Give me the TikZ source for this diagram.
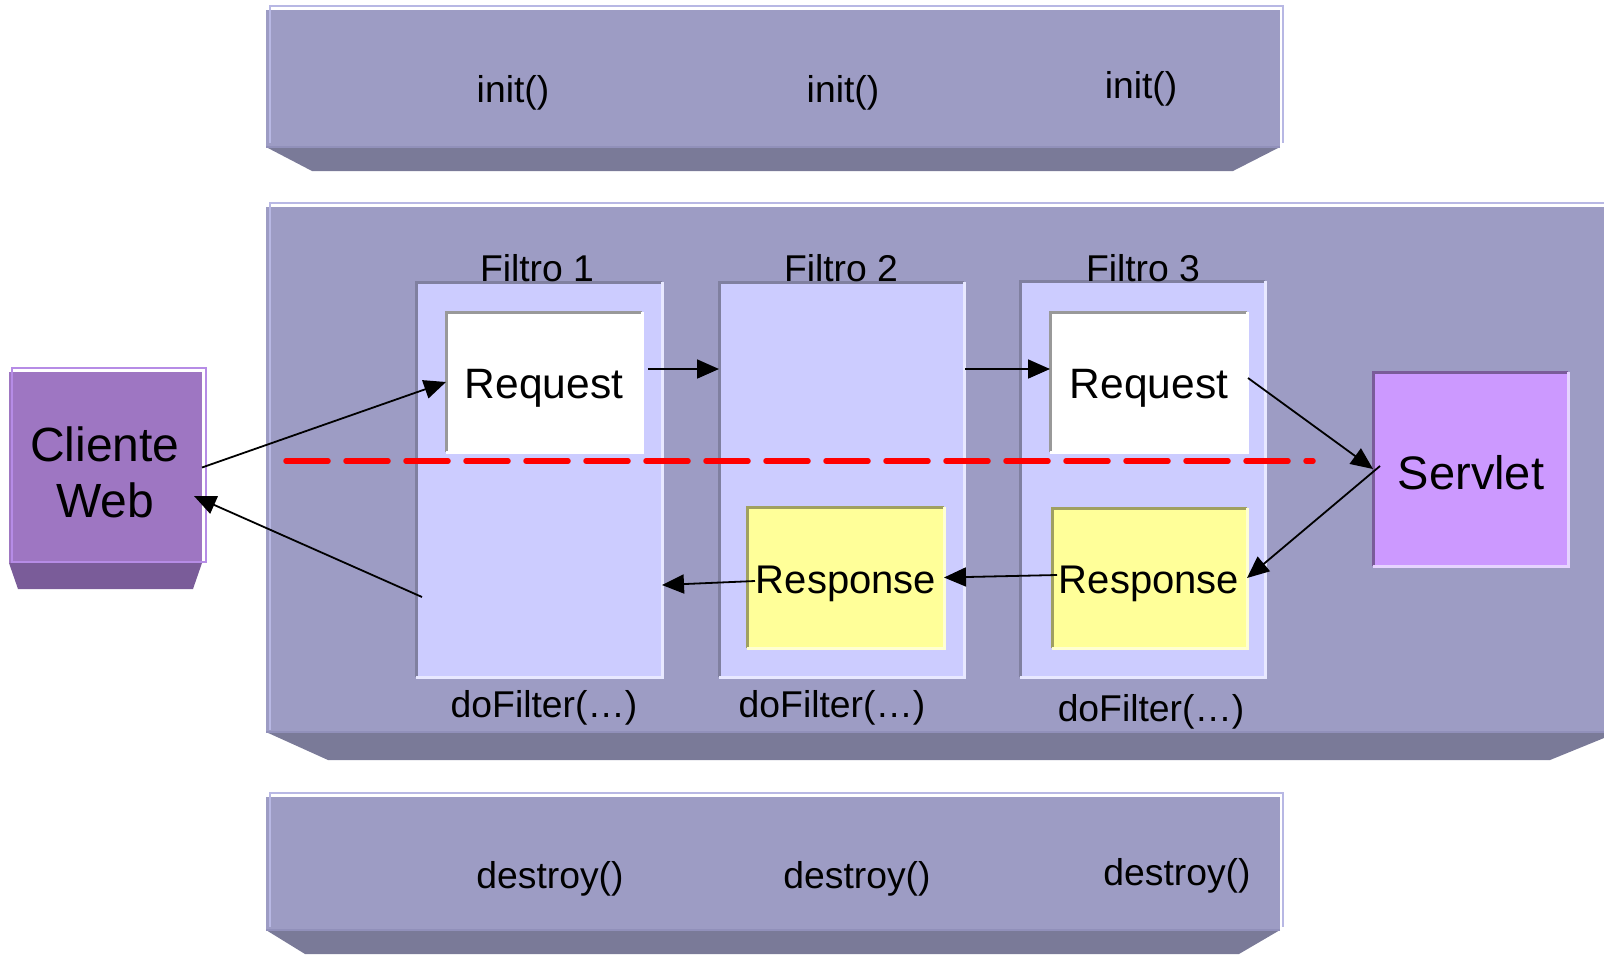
\documentclass[tikz,border=0pt]{standalone}
\usepackage{fontspec}
\setmainfont{Liberation Sans}
\usetikzlibrary{arrows.meta}
\definecolor{pface}{RGB}{157,156,196}
\definecolor{pshadow}{RGB}{122,122,152}
\definecolor{pline}{RGB}{184,184,228}
\definecolor{pbottom}{RGB}{145,144,186}
\definecolor{ffill}{RGB}{204,204,255}
\definecolor{fdark}{RGB}{128,128,160}
\definecolor{flight}{RGB}{232,232,255}
\definecolor{rdark}{RGB}{153,153,153}
\definecolor{yfill}{RGB}{255,255,153}
\definecolor{ydark}{RGB}{160,160,96}
\definecolor{ylight}{RGB}{255,255,210}
\definecolor{cfill}{RGB}{158,118,194}
\definecolor{cshadow}{RGB}{122,92,153}
\definecolor{cline}{RGB}{182,140,230}
\definecolor{sfill}{RGB}{204,153,255}
\definecolor{sdark}{RGB}{122,92,153}
\definecolor{slight}{RGB}{230,212,255}
\newcommand\bevel[3]{%
  \draw[#2,line width=3pt] (#1.south west) -- (#1.north west) -- (#1.north east);
  \draw[#3,line width=3pt] (#1.north east) -- (#1.south east) -- (#1.south west);}
\begin{document}
\begin{tikzpicture}[x=1pt,y=-1pt,
  boxn/.style={inner sep=0pt,outer sep=0pt,anchor=north west},
  lbl/.style={inner sep=0pt,font=\fontsize{37.3}{42}\selectfont},
  req/.style={inner sep=0pt,font=\fontsize{42.5}{48}\selectfont},
  res/.style={inner sep=0pt,font=\fontsize{40}{46}\selectfont},
  arr/.style={-{Triangle[length=22pt,width=19pt]},line width=1.8pt,black}]
\useasboundingbox (0,0) rectangle (1604,954);

% ---------- top panel ----------
\node[boxn,fill=pface,minimum width=1014pt,minimum height=137pt] (ptop) at (266,10) {};
\draw[pline,line width=2pt] (270,143) -- (270,6) -- (1283,6) -- (1283,143);
\draw[white,line width=1pt] (272,8.5) -- (1281,8.5);
\fill[pshadow] (ptop.south west) -- (ptop.south east) -- (1233,171) -- (312,171) -- cycle;
\draw[pbottom,line width=1.5pt] (ptop.south west) -- (ptop.south east);

% ---------- middle panel ----------
\node[boxn,fill=pface,minimum width=1340pt,minimum height=525pt] (pmid) at (266,207) {};
\draw[pline,line width=2pt] (270,730) -- (270,203) -- (1610,203);
\draw[white,line width=1pt] (272,205.5) -- (1610,205.5);
\fill[pshadow] (pmid.south west) -- (1604,732) -- (1604,738) -- (1550,760) -- (328,760) -- cycle;
\draw[pbottom,line width=1.5pt] (pmid.south west) -- (1604,732);

% ---------- bottom panel ----------
\node[boxn,fill=pface,minimum width=1014pt,minimum height=133pt] (pbot) at (266,797) {};
\draw[pline,line width=2pt] (270,927) -- (270,793) -- (1283,793) -- (1283,927);
\draw[white,line width=1pt] (272,795.5) -- (1281,795.5);
\fill[pshadow] (pbot.south west) -- (pbot.south east) -- (1239,954) -- (305,954) -- cycle;
\draw[pbottom,line width=1.5pt] (pbot.south west) -- (pbot.south east);

% ---------- Cliente Web ----------
\node[boxn,fill=cfill,minimum width=193pt,minimum height=191pt] (cli) at (9,372) {};
\draw[cline,line width=2pt] (12,368) rectangle (206,562);
\fill[cshadow] (cli.south west) -- (cli.south east) -- (193,589) -- (18,589) -- cycle;
\node[align=center,inner sep=0pt,font=\fontsize{48}{56}\selectfont] (clitxt) at (105,472) {Cliente\\Web};

% ---------- Servlet ----------
\node[boxn,fill=sfill,minimum width=195pt,minimum height=194pt] (srv) at (1373,372) {};
\bevel{srv}{sdark}{slight}
\node[inner sep=0pt,font=\fontsize{47}{56}\selectfont] (srvtxt) at (1471,473) {Servlet};

% ---------- filters ----------
\node[boxn,fill=ffill,minimum width=246pt,minimum height=395pt] (f1) at (416,282) {};
\bevel{f1}{fdark}{flight}
\node[boxn,fill=ffill,minimum width=245pt,minimum height=395pt] (f2) at (719,282) {};
\bevel{f2}{fdark}{flight}
\node[boxn,fill=ffill,minimum width=245pt,minimum height=396pt] (f3) at (1020,281) {};
\bevel{f3}{fdark}{flight}

\node[lbl] (t1) at (537,268) {Filtro 1};
\node[lbl] (t2) at (841,268) {Filtro 2};
\node[lbl] (t3) at (1143,268) {Filtro 3};

\node[lbl] (d1) at (544,708) {doFilter(…)};
\node[lbl] (d2) at (832,708) {doFilter(…)};
\node[lbl] (d3) at (1151,712) {doFilter(…)};

% request / response
\node[boxn,fill=white,minimum width=196pt,minimum height=140pt] (req1) at (446,312) {};
\bevel{req1}{rdark}{white}
\node[req] (req1t) at (544,388) {Request};
\node[boxn,fill=white,minimum width=197pt,minimum height=140pt] (req3) at (1050,312) {};
\bevel{req3}{rdark}{white}
\node[req] (req3t) at (1149,388) {Request};

\node[boxn,fill=yfill,minimum width=197pt,minimum height=141pt] (res2) at (747,507) {};
\bevel{res2}{ydark}{ylight}
\node[res] (res2t) at (846,584) {Response};
\node[boxn,fill=yfill,minimum width=195pt,minimum height=140pt] (res3) at (1052,508) {};
\bevel{res3}{ydark}{ylight}
\node[res] (res3t) at (1149,584) {Response};

% init / destroy
\node[lbl] (i1) at (513,93) {init()};
\node[lbl] (i2) at (843,93) {init()};
\node[lbl] (i3) at (1141,89) {init()};
\node[lbl] (x1) at (550,879) {destroy()};
\node[lbl] (x2) at (857,879) {destroy()};
\node[lbl] (x3) at (1177,876) {destroy()};

% red dashed separator
\coordinate (ds) at (286,461);
\coordinate (de) at (1313,461);
\draw[red,line width=5.5pt,line cap=round,dash pattern=on 42pt off 18pt] (ds) -- (de);

% ---------- connectors ----------
\coordinate (a2s) at (422,597);
\coordinate (a2e) at (194,496);
\coordinate (a3s) at (648,369);
\coordinate (a3e) at (719,369);
\coordinate (a4s) at (965,369);
\coordinate (a4e) at (1050,369);
\coordinate (a5s) at (1248,378);
\coordinate (a6s) at (1380,466);
\coordinate (a7s) at (1057,575);
\coordinate (a8s) at (755,581);
\coordinate (a8e) at (662,585);

\draw[arr] (cli.east) -- (req1.west);
\draw[arr] (a2s) -- (a2e);
\draw[arr] (a3s) -- (a3e);
\draw[arr] (a4s) -- (a4e);
\draw[arr] (a5s) -- (srv.west);
\draw[arr] (a6s) -- (res3.east);
\draw[arr] (a7s) -- (res2.east);
\draw[arr] (a8s) -- (a8e);
\end{tikzpicture}
\end{document}
